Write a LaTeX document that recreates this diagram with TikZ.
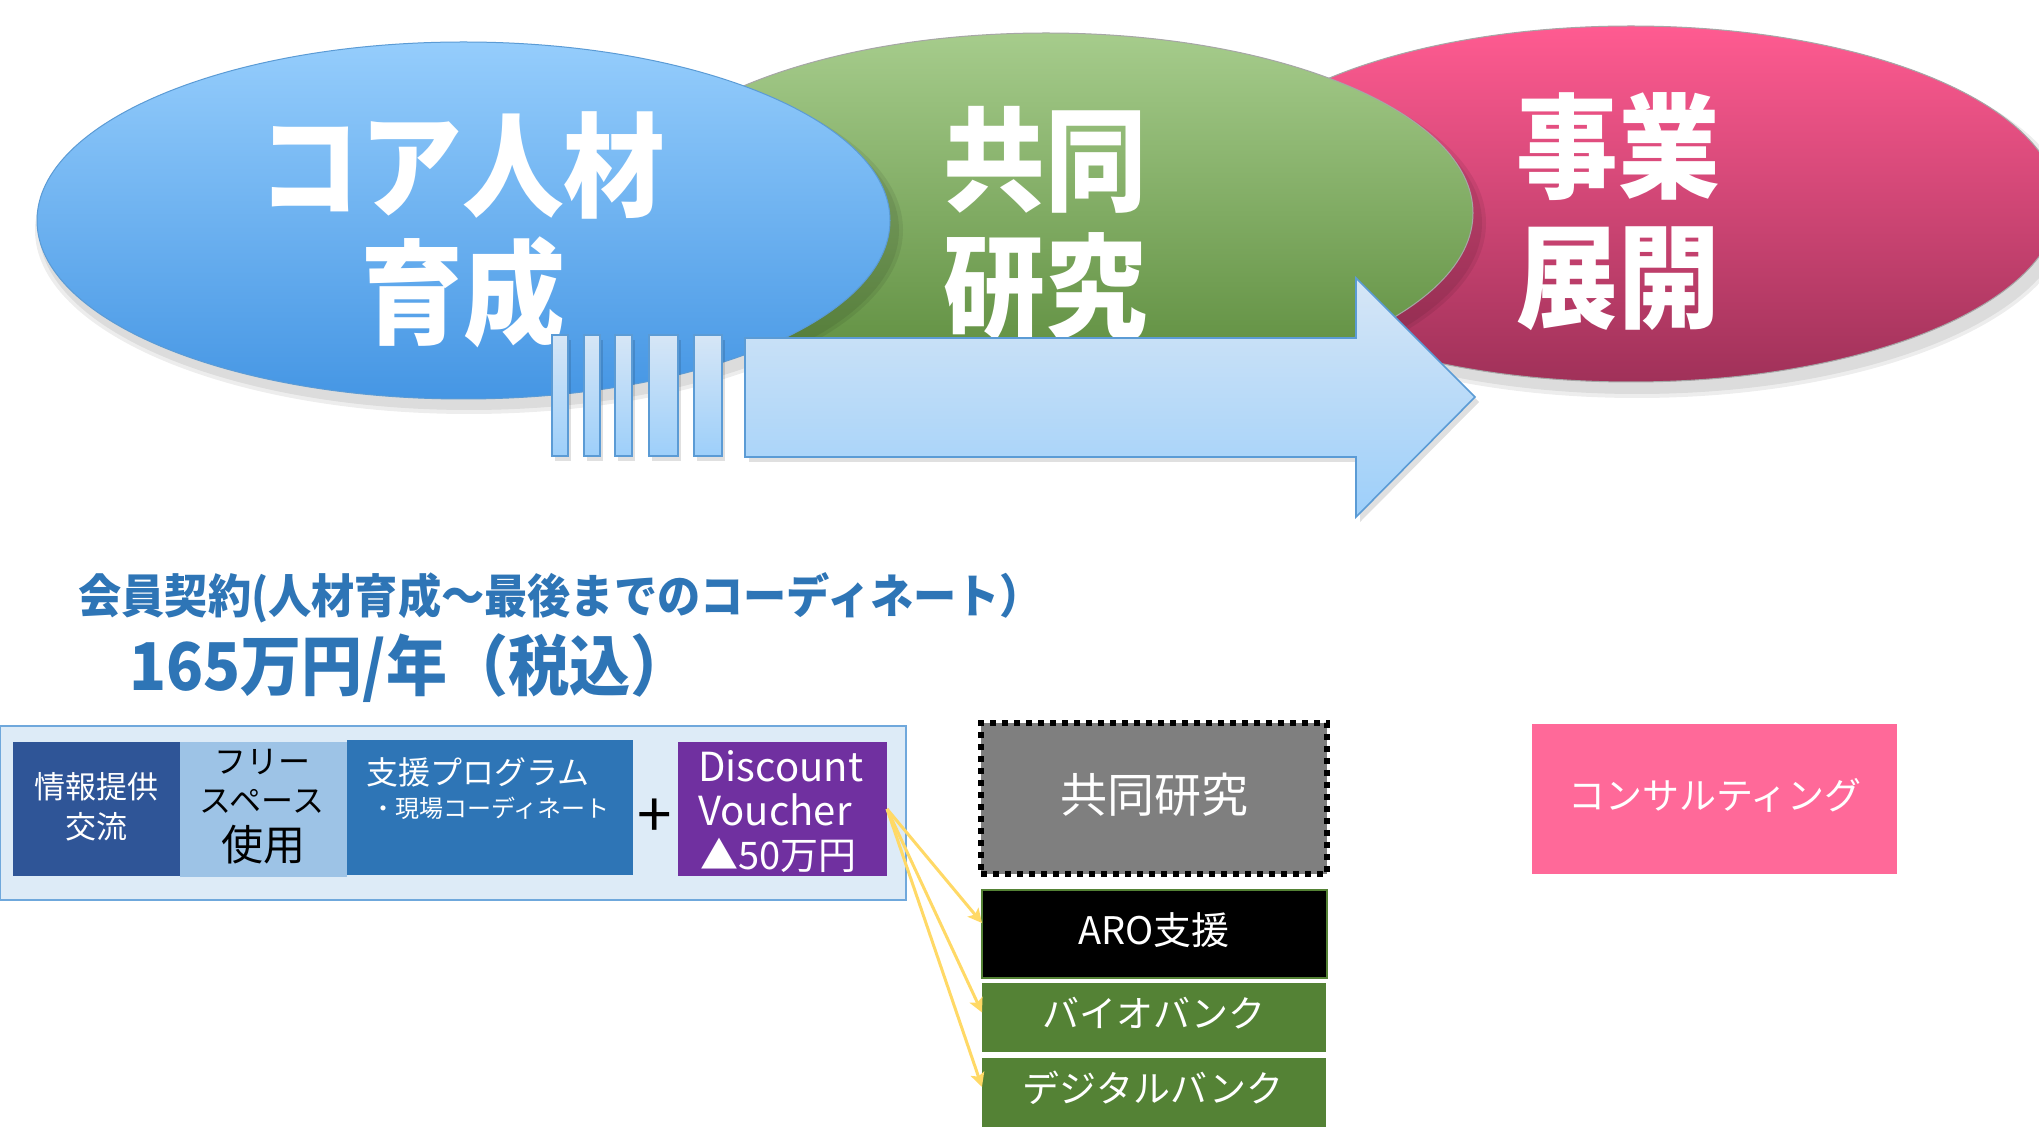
\documentclass[tikz,border=0pt]{standalone}
\usepackage{fontspec}
\setmainfont{Noto Sans CJK JP}
\usetikzlibrary{shapes.geometric,arrows.meta}
\definecolor{bluetop}{HTML}{95CDFC}
\definecolor{bluebot}{HTML}{4596E4}
\definecolor{greentop}{HTML}{A6CC8C}
\definecolor{greenbot}{HTML}{5A8A3A}
\definecolor{pinktop}{HTML}{FF5B91}
\definecolor{pinkbot}{HTML}{A03159}
\definecolor{arrtop}{HTML}{D6E6F6}
\definecolor{arrbot}{HTML}{9DCFFA}
\definecolor{arrline}{HTML}{5B9BD5}
\definecolor{hdr}{HTML}{2E75B6}
\definecolor{panel}{HTML}{DDEBF7}
\definecolor{panelline}{HTML}{6FA8DC}
\definecolor{infobg}{HTML}{2F5597}
\definecolor{freebg}{HTML}{9DC3E6}
\definecolor{supbg}{HTML}{2E75B6}
\definecolor{vouchbg}{HTML}{7030A0}
\definecolor{greybg}{HTML}{7F7F7F}
\definecolor{bankbg}{HTML}{548235}
\definecolor{consbg}{HTML}{FF6999}
\definecolor{yarr}{HTML}{FFD966}
\newcommand{\tallt}[1]{\scalebox{1.06}[1.18]{#1}}
\tikzset{
  ellshape/.style={ellipse, inner sep=0, outer sep=0},
  ellt/.style={text=white, inner sep=0, font=\fontsize{48}{48}\selectfont\bfseries},
  boxn/.style={inner sep=0, outer sep=0, anchor=center},
  hdrt/.style={text=hdr, inner sep=0, anchor=west},
  wt/.style={text=white, inner sep=0},
  stripe/.style={top color=arrtop, bottom color=arrbot, draw=arrline, line width=0.8pt},
  yarrow/.style={draw=yarr, line width=1.5pt, -{Stealth[length=7pt,width=7pt,inset=1.5pt]}},
  shad/.style={fill=black, opacity=0.07}
}
\begin{document}
\begin{tikzpicture}[x=0.5pt,y=-0.5pt]
\useasboundingbox (0,0) rectangle (2039,1127);
\fill[white] (0,0) rectangle (2039,1127);

% ---- pink ellipse
\fill[shad] (1637,214) ellipse [x radius=215pt, y radius=90pt];
\fill[shad] (1637,214) ellipse [x radius=217pt, y radius=92pt];
\node[ellshape, top color=pinktop, bottom color=pinkbot, draw=gray!70, line width=0.5pt,
      minimum width=427pt, minimum height=178pt] (pinkell) at (1631,204) {};
\node[ellt] (p1) at (1618,147) {\tallt{事業}};
\node[ellt] (p2) at (1618,279) {\tallt{展開}};

% ---- green ellipse
\fill[shad] (1052,223) ellipse [x radius=215pt, y radius=91pt];
\fill[shad] (1052,223) ellipse [x radius=217pt, y radius=93pt];
\node[ellshape, top color=greentop, bottom color=greenbot, draw=gray!70, line width=0.5pt,
      minimum width=427pt, minimum height=180pt] (greenell) at (1046,213) {};
\node[ellt] (g1) at (1045,160) {\tallt{共同}};
\node[ellt] (g2) at (1045,287) {\tallt{研究}};

% ---- blue ellipse
\fill[shad] (469,230) ellipse [x radius=215pt, y radius=90pt];
\fill[shad] (469,230) ellipse [x radius=217pt, y radius=92pt];
\node[ellshape, top color=bluetop, bottom color=bluebot, draw=arrline, line width=0.5pt,
      minimum width=426.5pt, minimum height=178.5pt] (blueell) at (463.5,220.5) {};
\node[ellt] (b1) at (462,165) {\tallt{コア人材}};
\node[ellt] (b2) at (463,292) {\tallt{育成}};

% ---- big arrow and stripes
\fill[black,opacity=0.12] (749,343) -- (1360,343) -- (1360,283) -- (1479,402) -- (1360,522) -- (1360,462) -- (749,462) -- cycle;
\foreach \a/\b in {552/568,584/600,615/632,649/678,694/722}{
  \fill[black,opacity=0.12] (\a+3,340) rectangle (\b+3,461);
}
\path[stripe] (745,338) -- (1356,338) -- (1356,278) -- (1475,397) -- (1356,517) -- (1356,457) -- (745,457) -- cycle;
\foreach \a/\b in {552/568,584/600,615/632,649/678,694/722}{
  \path[stripe] (\a,335) rectangle (\b,456);
}

% ---- header
\node[hdrt, font=\fontsize{21.6}{21.6}\selectfont\bfseries] (h1) at (78,598) {\scalebox{1}[1.08]{会員契約(人材育成～最後までのコーディネート）}};
\node[hdrt, font=\fontsize{30.5}{30.5}\selectfont\bfseries] (h2) at (129,668) {\scalebox{1}[1.08]{165万円/年（税込）}};

% ---- left panel
\node[boxn, fill=panel, draw=panelline, line width=0.8pt, minimum width=453pt, minimum height=87pt] (panel) at (453,813) {};
\node[boxn, fill=infobg, minimum width=83.5pt, minimum height=67pt] (info) at (96.5,809) {};
\node[wt, font=\fontsize{15.5}{15.5}\selectfont] (info1) at (96,787) {情報提供};
\node[wt, font=\fontsize{15.5}{15.5}\selectfont] (info2) at (96,827) {交流};
\node[boxn, fill=freebg, minimum width=83.5pt, minimum height=67.5pt] (free) at (263.5,809.5) {};
\node[inner sep=0, font=\fontsize{16}{16}\selectfont] (free1) at (262,762) {フリー};
\node[inner sep=0, font=\fontsize{16}{16}\selectfont] (free2) at (262,801) {スペース};
\node[inner sep=0, font=\fontsize{21}{21}\selectfont] (free3) at (263,845) {使用};
\node[boxn, fill=supbg, minimum width=143pt, minimum height=67.5pt] (sup) at (490,807.5) {};
\node[wt, anchor=west, font=\fontsize{16}{16}\selectfont] (sup1) at (366,772) {支援プログラム};
\node[wt, anchor=west, font=\fontsize{12}{12}\selectfont] (sup2) at (371,808) {・現場コーディネート};
\node[inner sep=0, font=\fontsize{31}{31}\selectfont] (plus) at (655,818) {+};
\node[boxn, fill=vouchbg, minimum width=104.5pt, minimum height=67pt] (disc) at (782.5,809) {};
\node[wt, anchor=west, font=\fontsize{20}{20}\selectfont] (d1) at (698,766) {Discount};
\node[wt, anchor=west, font=\fontsize{20}{20}\selectfont] (d2) at (698,810) {Voucher};
\node[wt, anchor=west, font=\fontsize{19}{19}\selectfont] (d3) at (700,855) {▲50万円};

% ---- right column
\node[boxn, fill=greybg, draw=black, line width=3pt, dash pattern=on 3pt off 3pt,
      minimum width=173pt, minimum height=75.5pt] (joint) at (1154,798.5) {};
\node[wt, font=\fontsize{23.5}{23.5}\selectfont] (jointt) at (1154,795) {共同研究};
\node[boxn, fill=black, draw=bankbg, line width=0.6pt, minimum width=172.5pt, minimum height=44pt] (aro) at (1154.5,934) {};
\node[wt, font=\fontsize{19}{19}\selectfont] (arot) at (1154,930) {ARO支援};
\node[boxn, fill=bankbg, minimum width=172pt, minimum height=34.5pt] (bio) at (1154,1017.5) {};
\node[wt, font=\fontsize{18.5}{18.5}\selectfont] (biot) at (1154,1013) {バイオバンク};
\node[boxn, fill=bankbg, minimum width=172pt, minimum height=36pt] (dig) at (1154,1094) {};
\node[wt, font=\fontsize{18.5}{18.5}\selectfont] (digt) at (1153,1088) {デジタルバンク};

\node[boxn, fill=consbg, minimum width=182.5pt, minimum height=75pt] (cons) at (1714.5,799) {};
\node[wt, font=\fontsize{18.5}{18.5}\selectfont] (const) at (1715,795) {コンサルティング};

% ---- yellow arrows
\draw[yarrow] (disc.east) -- ([yshift=5.5pt]aro.west);
\draw[yarrow] (disc.east) -- ([yshift=2.5pt]bio.west);
\draw[yarrow] (disc.east) -- ([yshift=3.5pt]dig.west);
\end{tikzpicture}
\end{document}
